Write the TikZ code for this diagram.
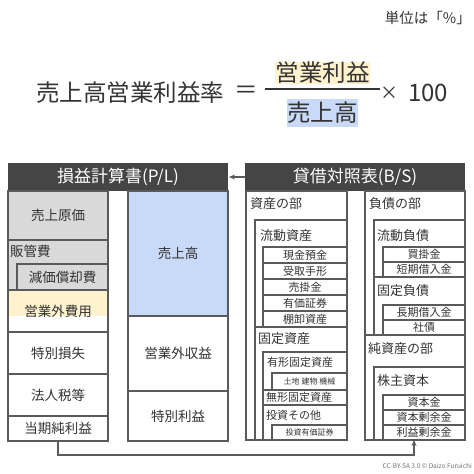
\documentclass[tikz,border=0pt]{standalone}
\usepackage{fontspec}
\setmainfont{Noto Sans CJK JP}
\usetikzlibrary{arrows.meta}
\definecolor{txt}{HTML}{333333}
\definecolor{ln}{HTML}{5A5A5A}
\definecolor{hdr}{HTML}{454545}
\definecolor{gr}{HTML}{D9D9D9}
\definecolor{bl}{HTML}{C9DAF8}
\definecolor{yl}{HTML}{FFF2CC}
\newcommand\fs[1]{\fontsize{#1}{#1}\selectfont}
\newcommand\bx[7]{\node[cellbox,#6,minimum width={#4pt-#2pt},minimum height={#5pt-#3pt}] (#1) at ({(#2+#4)/2},{(#3+#5)/2}) {#7};}
\begin{document}
\begin{tikzpicture}[x=1pt,y=-1pt,
  cellbox/.style={draw=ln,line width=1.1pt,inner sep=0pt,outer sep=0pt,text=txt,font=\fs{13.5}},
  hdrbox/.style={fill=hdr,draw=none,text=white,font=\fs{17}},
  item/.style={font=\fs{11}},
  tinyitem/.style={font=\fs{8}},
  lab/.style={anchor=west,inner sep=0pt,text=txt,font=\fs{13}},
  sublab/.style={anchor=west,inner sep=0pt,text=txt,font=\fs{11}},
  ftext/.style={inner sep=0pt,text=txt,font=\fs{23.5}},
  conn/.style={draw=ln,line width=1.1pt,-{Stealth[length=6pt,width=5pt]}}
]
\fill[white] (0,0) rectangle (474,474);
\useasboundingbox (0,0) rectangle (474,474);

% unit note
\node[inner sep=0pt,text=txt,font=\fs{14.5},anchor=east] (unit) at (471,18) {単位は「\%」};

% formula
\node[ftext] (lhs) at (130,93) {売上高営業利益率};
\node[ftext] (eq) at (246,92) {＝};
\node[ftext,fill=yl,minimum width=95pt,minimum height=22pt] (num) at (322.5,72.5) {営業利益};
\node[ftext,fill=bl,minimum width=71pt,minimum height=28pt] (den) at (322.5,112.5) {売上高};
\coordinate (fl) at (265,89);
\coordinate (fr) at (380,89);
\draw[txt,line width=1.2pt] (fl) -- (fr);
\node[ftext,font=\fs{18}] (times) at (389,93) {×};
\node[ftext,font=\fs{24}] (hund) at (428,93) {100};

% P/L
\bx{plh}{8}{163}{228}{191}{hdrbox}{損益計算書(P/L)}
\bx{pl1}{8}{191}{108}{240}{fill=gr}{売上原価}
\bx{pl2}{8}{240}{108}{290}{fill=gr}{}
\node[lab,font=\fs{13.5}] (pl2t) at (10,251) {販管費};
\bx{pl2b}{17}{264}{108}{290}{fill=gr}{減価償却費}
\fill[yl] (8,290) rectangle (108,316);
\bx{pl3}{8}{290}{108}{332}{}{営業外費用}
\bx{pl4}{8}{332}{108}{374}{}{特別損失}
\bx{pl5}{8}{374}{108}{416}{}{法人税等}
\bx{pl6}{8}{416}{108}{441}{}{当期純利益}
\bx{pr1}{128}{191}{228}{316}{fill=bl}{売上高}
\bx{pr2}{128}{316}{228}{391}{}{営業外収益}
\bx{pr3}{128}{391}{228}{441}{}{特別利益}

% B/S header
\bx{bsh}{245}{163}{465}{191}{hdrbox}{貸借対照表(B/S)}

% assets
\bx{ba0}{246}{191}{347}{440}{}{}
\node[lab] (ba0t) at (250,204) {資産の部};
\bx{ba1}{255}{220}{347}{327}{}{}
\node[lab] (ba1t) at (260,236) {流動資産};
\bx{bi1}{263}{247}{347}{263}{item}{現金預金}
\bx{bi2}{263}{263}{347}{279}{item}{受取手形}
\bx{bi3}{263}{279}{347}{295}{item}{売掛金}
\bx{bi4}{263}{295}{347}{311}{item}{有価証券}
\bx{bi5}{263}{311}{347}{327}{item}{棚卸資産}
\bx{ba2}{255}{327}{347}{440}{}{}
\node[lab] (ba2t) at (258,339) {固定資産};
\bx{ba21}{263}{352}{347}{390}{}{}
\node[sublab] (ba21t) at (267,362) {有形固定資産};
\bx{ba211}{272}{373}{347}{390}{tinyitem}{土地 建物 機械}
\bx{ba22}{263}{390}{347}{405}{}{}
\node[sublab] (ba22t) at (266,397.5) {無形固定資産};
\bx{ba23}{263}{405}{347}{440}{}{}
\node[sublab] (ba23t) at (266,415) {投資その他};
\bx{ba231}{272}{425}{347}{440}{tinyitem}{投資有価証券}

% liabilities
\bx{bl0}{365}{191}{465}{335}{}{}
\node[lab] (bl0t) at (369,204) {負債の部};
\bx{bl1}{374}{220}{465}{277}{}{}
\node[lab] (bl1t) at (377,236) {流動負債};
\bx{bli1}{383}{247}{465}{262}{item}{買掛金}
\bx{bli2}{383}{262}{465}{277}{item}{短期借入金}
\bx{bl2}{374}{277}{465}{335}{}{}
\node[lab] (bl2t) at (377,291) {固定負債};
\bx{bli3}{383}{305}{465}{320}{item}{長期借入金}
\bx{bli4}{383}{320}{465}{335}{item}{社債}

% net assets
\bx{bn0}{365}{335}{465}{440}{}{}
\node[lab] (bn0t) at (368,349) {純資産の部};
\bx{bn1}{374}{367}{465}{440}{}{}
\node[lab] (bn1t) at (377,381) {株主資本};
\bx{bre1}{383}{395}{465}{410}{item}{資本金}
\bx{bre2}{383}{410}{465}{425}{item}{資本剰余金}
\bx{bre3}{383}{425}{465}{440}{item}{利益剰余金}

% connectors
\draw[conn] (bsh.west) -- ([xshift=1pt]plh.east);
\draw[conn] (pl6.south) -- ++(0,14) -| ([xshift=-10pt]bre3.south);

% credit
\node[inner sep=0pt,anchor=east,text=black!55,font=\fs{6.5}] (credit) at (472,466) {CC-BY-SA 3.0 © Daizo Furuichi};
\end{tikzpicture}
\end{document}
